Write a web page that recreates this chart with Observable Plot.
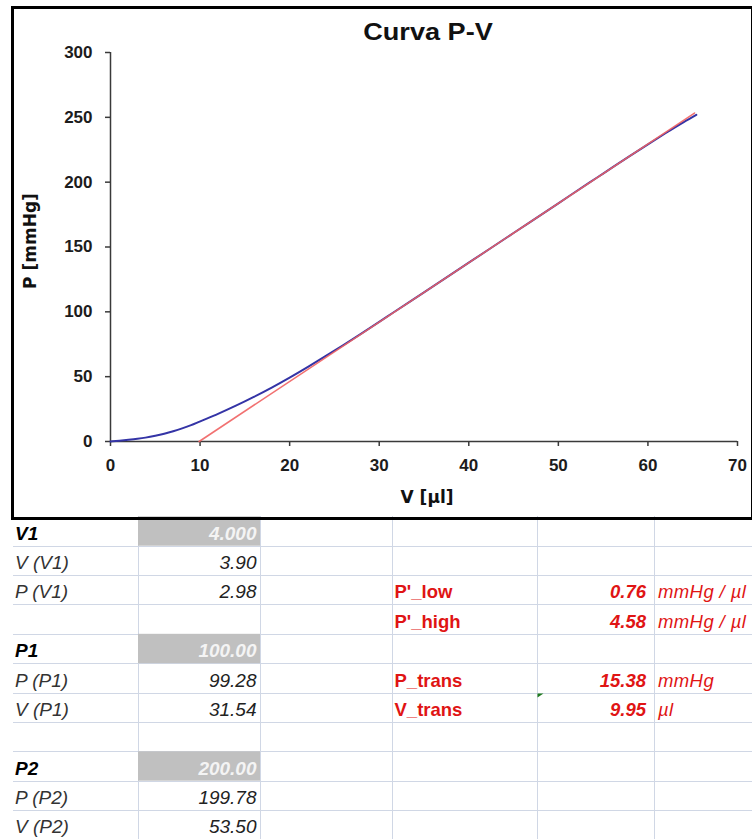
<!DOCTYPE html>
<html>
<head>
<meta charset="utf-8">
<script src="https://cdn.jsdelivr.net/npm/d3@7"></script>
<script src="https://cdn.jsdelivr.net/npm/@observablehq/plot@0.6"></script>
<style>
  html, body { margin: 0; padding: 0; background: #fff; }
  body { width: 752px; height: 839px; position: relative; overflow: hidden;
         font-family: "Liberation Sans", Arial, sans-serif; }
  #sheet, #chart { position: absolute; left: 0; top: 0; }
  #frame { position: absolute; left: 11px; top: 6px; width: 743px; height: 514px;
           box-sizing: border-box; border: 3px solid #000; pointer-events: none; }
  #title { position: absolute; left: 328px; top: 20px; width: 200px; text-align: center;
           font: bold 24px/24px "Liberation Sans", Arial, sans-serif; color: #111;
           transform: scaleX(1.13); transform-origin: center; white-space: nowrap; }
</style>
</head>
<body>
<div id="sheet"></div>
<div id="chart"></div>
<div id="title">Curva P-V</div>
<div id="frame"></div>
<script>
// Measured pressure–volume curve
const volume = [0, 1, 2, 3, 3.9, 5, 6, 7, 8, 9, 9.95, 12, 14, 16, 18, 20, 22, 24, 26, 28, 30,
                31.54, 35, 40, 45, 50, 53.5, 55, 58, 60, 62, 64, 65.4];
const pressure = [0, 0.6, 1.3, 2.1, 2.98, 4.41, 6.0, 7.9, 10.1, 12.6, 15.38, 21.3, 27.6, 34.4,
                  41.6, 49.3, 57.4, 65.8, 74.4, 83.2, 92.2, 99.28, 115.0, 137.9, 160.8, 183.7,
                  199.78, 206.6, 220.3, 229.2, 237.9, 246.3, 251.9];

// Linear fit of the stiff (high-volume) segment, slope P'_high
const fitVolume = [9.9, 65.2];
const fitPressure = [0, 253.3];

const xTicks = [0, 10, 20, 30, 40, 50, 60, 70];
const yTicks = [0, 50, 100, 150, 200, 250, 300];

// Worksheet cells beneath the chart
const rowLabels = ["V1", "V (V1)", "P (V1)", "", "P1", "P (P1)", "V (P1)", "", "P2", "P (P2)", "V (P2)"];
const rowValues = ["4.000", "3.90", "2.98", "", "100.00", "99.28", "31.54", "", "200.00", "199.78", "53.50"];
const inputRows = [0, 4, 8];
const resultRows = [2, 3, 5, 6];
const resultNames = ["P'_low", "P'_high", "P_trans", "V_trans"];
const resultValues = ["0.76", "4.58", "15.38", "9.95"];
const resultUnits = ["mmHg / µl", "mmHg / µl", "mmHg", "µl"];

const curve = volume.map((v, i) => ({v, p: pressure[i]}));
const fit = fitVolume.map((v, i) => ({v, p: fitPressure[i]}));

const chart = Plot.plot({
  width: 752,
  height: 520,
  marginTop: 52,
  marginRight: 15,
  marginBottom: 79,
  marginLeft: 110,
  style: {background: "transparent", fontFamily: "'Liberation Sans', Arial, sans-serif", overflow: "visible"},
  x: {domain: [0, 70]},
  y: {domain: [0, 300]},
  marks: [
    Plot.axisX({ticks: xTicks, tickSize: 5, tickPadding: 12, fontSize: 17, fontWeight: "bold",
                fill: "#1c1c1c", stroke: "#3a3a3a", strokeWidth: 1.5, label: null}),
    Plot.axisY({ticks: yTicks, tickSize: 5, tickPadding: 13, fontSize: 17, fontWeight: "bold",
                fill: "#1c1c1c", stroke: "#3a3a3a", strokeWidth: 1.5, label: null}),
    Plot.ruleY([0], {stroke: "#3a3a3a", strokeWidth: 1.5}),
    Plot.ruleX([0], {stroke: "#3a3a3a", strokeWidth: 1.5}),
    Plot.line(curve, {x: "v", y: "p", stroke: "#3434a6", strokeWidth: 2, curve: "monotone-x"}),
    Plot.line(fit, {x: "v", y: "p", stroke: "#f06262", strokeWidth: 1.6, strokeOpacity: 0.9}),
    Plot.text(["V [µl]"], {text: d => d, frameAnchor: "bottom", textAnchor: "middle", lineAnchor: "middle",
                           dx: 3, dy: 56, fontSize: 17, fontWeight: "bold", fill: "#111",
                           fontFamily: "'DejaVu Sans', sans-serif"}),
    Plot.text(["P [mmHg]"], {text: d => d, frameAnchor: "left", textAnchor: "middle", lineAnchor: "middle",
                             dx: -80, dy: -6, rotate: -90, fontSize: 17, fontWeight: "bold", fill: "#111",
                             fontFamily: "'DejaVu Sans', sans-serif"})
  ]
});
document.getElementById("chart").appendChild(chart);

// Worksheet grid and cell contents
const W = 752, H = 839;
const rowH = 29.37, firstLine = 545.7;
const rowBottom = r => firstLine + rowH * r;
const colLines = [138, 260, 391.5, 537, 654];
const gridColor = "#d0d7e5";
const red = "#e01414";

const svg = d3.create("svg").attr("width", W).attr("height", H)
  .style("font-family", "'Liberation Sans', Arial, sans-serif");

for (let r = 0; r < 10; r++) {
  svg.append("line").attr("x1", 13).attr("x2", W)
    .attr("y1", Math.round(rowBottom(r)) + 0.5).attr("y2", Math.round(rowBottom(r)) + 0.5)
    .attr("stroke", gridColor);
}
for (const x of colLines) {
  svg.append("line").attr("x1", Math.round(x) + 0.5).attr("x2", Math.round(x) + 0.5)
    .attr("y1", 516).attr("y2", H).attr("stroke", gridColor);
}
for (const r of inputRows) {
  svg.append("rect").attr("x", 138).attr("width", 122)
    .attr("y", rowBottom(r) - rowH).attr("height", rowH).attr("fill", "#c0c0c0");
}

rowLabels.forEach((label, r) => {
  if (!label) return;
  const input = inputRows.includes(r);
  const y = rowBottom(r) - 6;
  svg.append("text").attr("x", 15).attr("y", y)
    .attr("font-size", 19).attr("font-style", "italic")
    .attr("font-weight", input ? "bold" : "normal")
    .attr("fill", input ? "#000" : "#333").text(label);
  svg.append("text").attr("x", 256.5).attr("y", y).attr("text-anchor", "end")
    .attr("font-size", 19).attr("font-style", "italic")
    .attr("font-weight", input ? "bold" : "normal")
    .attr("fill", input ? "#f4f4f4" : "#222").text(rowValues[r]);
});

resultRows.forEach((r, i) => {
  const y = rowBottom(r) - 6;
  svg.append("text").attr("x", 394.5).attr("y", y).attr("font-size", 18.5)
    .attr("font-weight", "bold").attr("fill", red).text(resultNames[i]);
  svg.append("text").attr("x", 646).attr("y", y).attr("text-anchor", "end").attr("font-size", 18.5)
    .attr("font-weight", "bold").attr("font-style", "italic").attr("fill", red).text(resultValues[i]);
  svg.append("text").attr("x", 658).attr("y", y).attr("font-size", 18.5)
    .attr("font-style", "italic").attr("fill", red).attr("letter-spacing", 0.4).text(resultUnits[i]);
});

// Error indicator in the corner of a cell
svg.append("path")
  .attr("d", `M537.5,${rowBottom(5) + 1}h6l-6,4z`)
  .attr("fill", "#1f7a1f");

document.getElementById("sheet").appendChild(svg.node());
</script>
</body>
</html>
